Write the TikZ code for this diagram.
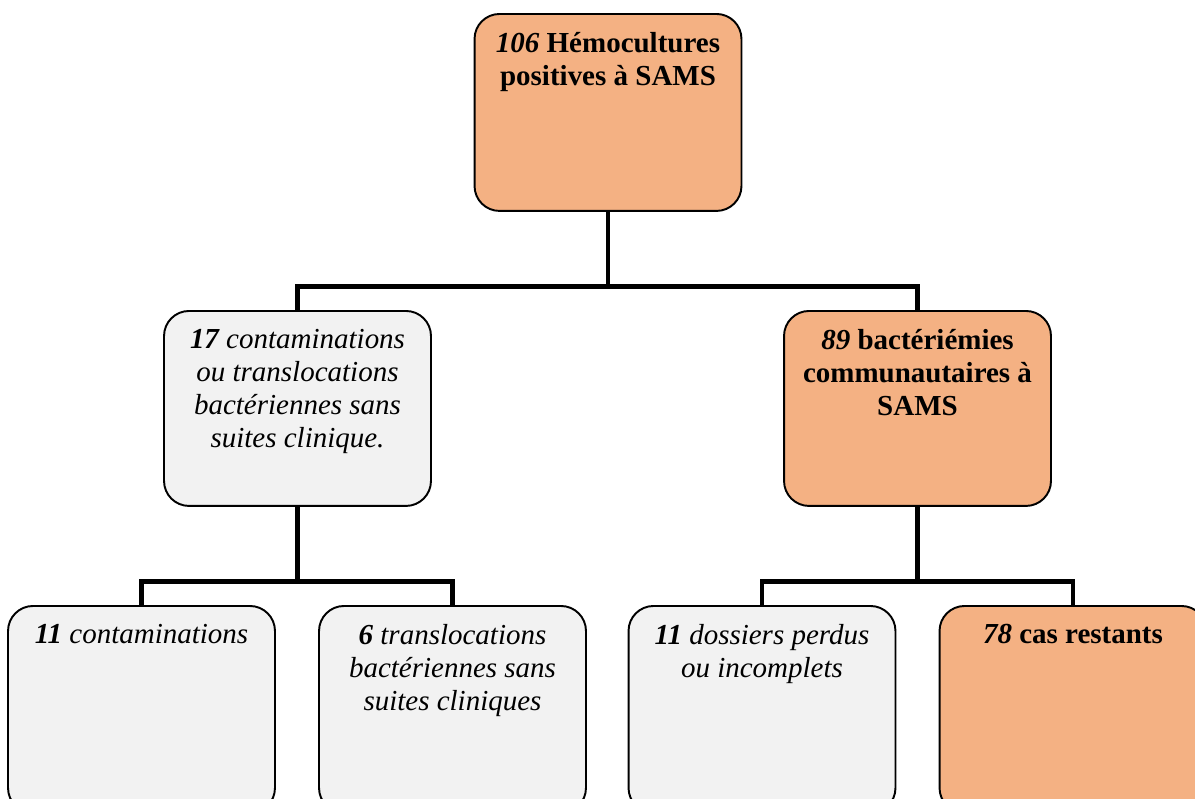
\documentclass[tikz,border=0pt]{standalone}
\usepackage{fontspec}
\setmainfont{Liberation Serif}
\usepackage{tikz}

\definecolor{saumon}{HTML}{F4B183}
\definecolor{gris}{HTML}{F2F2F2}

\newcommand{\contenu}[2]{\parbox[t][#1][t]{4.84cm}{\centering #2}}

\tikzset{
	boite/.style={draw, line width=1.1pt, rounded corners=0.5cm, anchor=north, inner xsep=0.25cm, inner ysep=0.37cm, font=\fontsize{16.5}{18.8}\selectfont},
	boiteorange/.style={boite, fill=saumon},
	boitegrise/.style={boite, fill=gris},
	lien/.style={line width=2.8pt}
}

\begin{document}
\begin{tikzpicture}[x=0.02cm,y=-0.02cm]
	\useasboundingbox (0,0) rectangle (1195,798);
	\clip (0,0) rectangle (1195,798);
	
	%top
	\node[boiteorange] (hemo) at (608,13) {\contenu{3.2cm}{\textbf{\textit{106} Hémocultures}\\ \textbf{positives à SAMS}}};
	
	%second row
	\node[boitegrise] (contam) at (297.5,310) {\contenu{3.16cm}{\textit{\textbf{17} contaminations}\\ \textit{ou translocations}\\ \textit{bactériennes sans}\\ \textit{suites clinique.}}};
	\node[boiteorange] (bact) at (917.5,310) {\contenu{3.16cm}{\textbf{\textit{89} bactériémies}\\ \textbf{communautaires à}\\ \textbf{SAMS}}};
	
	%bottom row
	\node[boitegrise] (cont11) at (141.5,605) {\contenu{3.4cm}{\textit{\textbf{11} contaminations}}};
	\node[boitegrise] (transl6) at (452.5,605) {\contenu{3.4cm}{\textit{\textbf{6} translocations}\\ \textit{bactériennes sans}\\ \textit{suites cliniques}}};
	\node[boitegrise] (dossiers) at (762,605) {\contenu{3.4cm}{\textit{\textbf{11} dossiers perdus}\\ \textit{ou incomplets}}};
	\node[boiteorange] (restants) at (1073,605) {\contenu{3.4cm}{\textbf{\textit{78} cas restants}}};
	
	%links
	\draw[lien] (hemo.south) -- ++(0,75) coordinate (j1);
	\draw[lien] (contam.north) |- (j1) -| (bact.north);
	\draw[lien] (contam.south) -- ++(0,75) coordinate (j2);
	\draw[lien] (cont11.north) |- (j2) -| (transl6.north);
	\draw[lien] (bact.south) -- ++(0,75) coordinate (j3);
	\draw[lien] (dossiers.north) |- (j3) -| (restants.north);
\end{tikzpicture}
\end{document}
